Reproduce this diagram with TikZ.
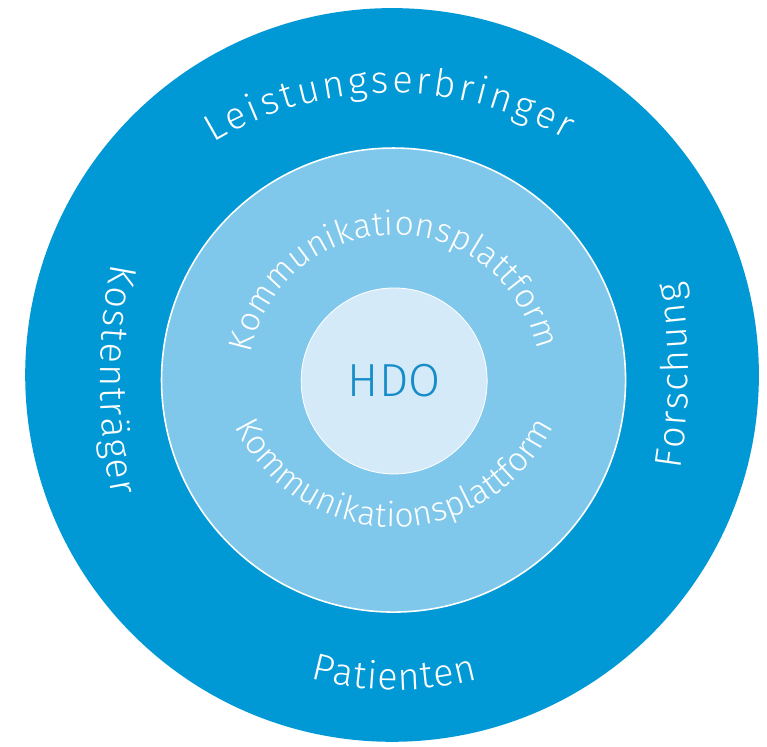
\documentclass[tikz,border=0pt]{standalone}
\usepackage{fontspec}
\setmainfont{Fira Sans Light}
\usepackage{tikz}
\usetikzlibrary{decorations.text}

\definecolor{outerblue}{RGB}{0,153,213}
\definecolor{midblue}{RGB}{127,200,235}
\definecolor{innerblue}{RGB}{212,234,248}
\definecolor{hdoblue}{RGB}{22,140,200}

\newcommand{\ringfont}{\fontsize{36}{42}\selectfont\color{white}}
\newcommand{\kommfont}{\fontsize{32}{38}\selectfont\color{white}}

\tikzset{
    ring/.style={circle, inner sep=0pt},
    arclabel/.style={decorate, decoration={text along path, text align=fit to path, text={#1}}}
}

\begin{document}
\begin{tikzpicture}
    \useasboundingbox (-13.07,-12.4) rectangle (12.5,12.5);

    % Rings
    \node[ring, fill=outerblue, minimum size=24.46cm] (aussen) at (0,0) {};
    \node[ring, fill=midblue, draw=white, line width=1.5pt, minimum size=15.47cm] (mitte) at (0.05,-0.17) {};
    \node[ring, fill=innerblue, draw=white, line width=0.8pt, minimum size=6.2cm,
          text=hdoblue, font=\fontsize{44}{50}\selectfont] (hdo) at (0.07,-0.2) {HDO};

    % Outer labels
    \path[arclabel={|\ringfont|Leistungserbringer}]
        ([yshift=-2.17cm]aussen.center) ++(121:11.57) arc[start angle=121, end angle=60, radius=11.57];
    \path[arclabel={|\ringfont|Kostenträger}]
        ([shift={(10.27,-0.17)}]aussen.center) ++(168.8:20) arc[start angle=168.8, end angle=191.2, radius=20];
    \path[arclabel={|\ringfont|Forschung}]
        ([shift={(-10.13,-0.03)}]aussen.center) ++(-9:20) arc[start angle=-9, end angle=9, radius=20];
    \path[arclabel={|\ringfont|Patienten}]
        ([shift={(0.1,0.17)}]aussen.center) ++(254.6:10.67) arc[start angle=254.6, end angle=285, radius=10.67];

    % Middle ring labels
    \path[arclabel={|\kommfont|Kommunikationsplattform}]
        (hdo.center) ++(169:4.87) arc[start angle=169, end angle=12, radius=4.87];
    \path[arclabel={|\kommfont|Kommunikationsplattform}]
        ([yshift=1cm]hdo.center) ++(205.3:5.87) arc[start angle=205.3, end angle=334.7, radius=5.87];
\end{tikzpicture}
\end{document}
